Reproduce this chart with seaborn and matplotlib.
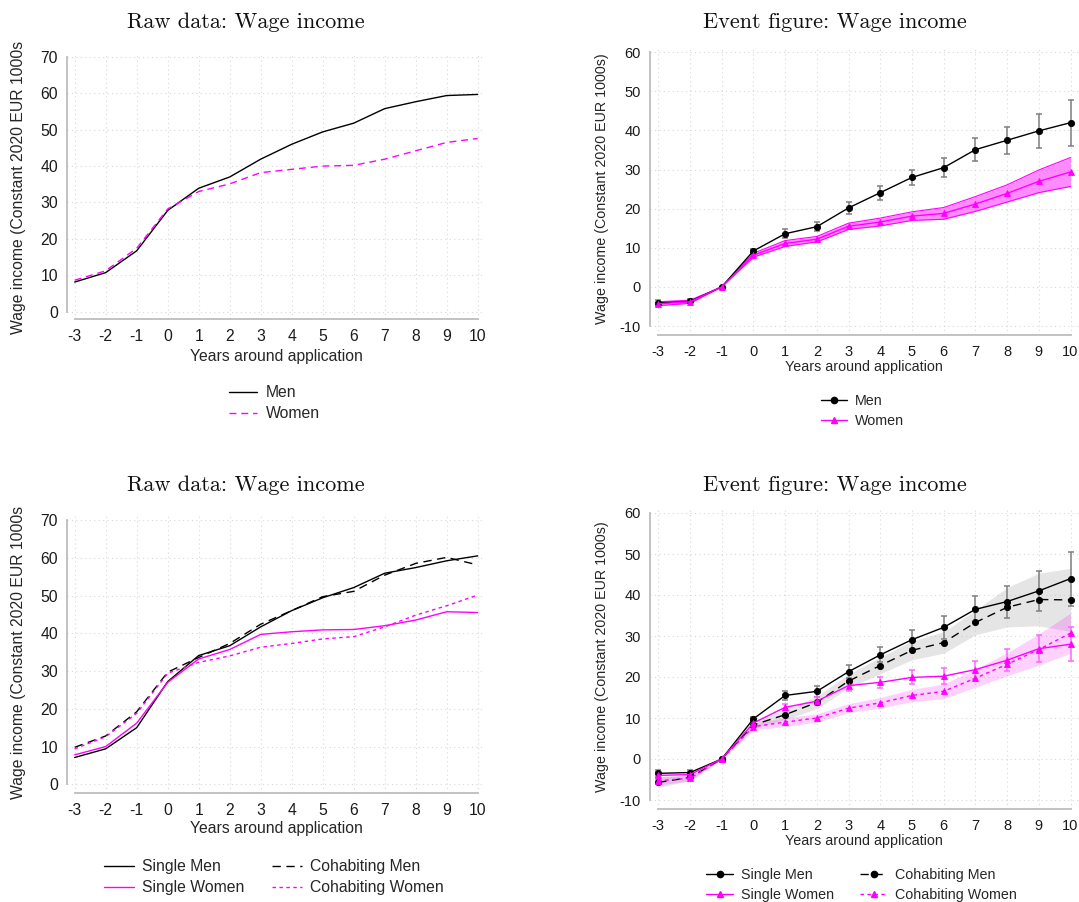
import matplotlib
matplotlib.use("Agg")
import matplotlib.pyplot as plt
import seaborn as sns
import numpy as np
from matplotlib.lines import Line2D

# ---------------- data ----------------
years = [-3, -2, -1, 0, 1, 2, 3, 4, 5, 6, 7, 8, 9, 10]

# Panel A: raw data, men vs women
men_raw = [8.1, 10.7, 16.7, 27.8, 33.9, 37.0, 41.9, 46.0, 49.4, 51.8, 55.8, 57.7, 59.4, 59.7]
women_raw = [8.6, 11.2, 17.4, 28.2, 33.0, 35.1, 38.2, 39.1, 40.0, 40.2, 41.9, 44.2, 46.5, 47.6]

# Panel B: event study, men vs women
men_est = [-4.1, -3.7, 0.0, 9.2, 13.6, 15.4, 20.2, 24.1, 28.0, 30.5, 35.1, 37.5, 39.9, 42.0]
men_ci = [0.7, 0.5, 0.0, 0.5, 1.1, 1.2, 1.5, 1.8, 2.0, 2.5, 2.9, 3.5, 4.4, 5.9]
women_est = [-4.3, -3.8, 0.0, 8.1, 11.1, 12.2, 15.5, 16.6, 18.1, 18.8, 21.2, 23.9, 27.0, 29.4]
women_ci = [0.5, 0.4, 0.0, 0.5, 0.75, 0.7, 0.8, 1.0, 1.1, 1.5, 1.9, 2.2, 2.9, 3.7]

# Panel C: raw data by cohabitation
single_men_raw = [7.1, 9.4, 15.0, 27.2, 34.1, 36.7, 41.7, 46.0, 49.4, 52.1, 55.9, 57.4, 59.2, 60.5]
cohab_men_raw = [9.8, 12.8, 19.2, 29.7, 33.6, 37.3, 42.4, 46.0, 49.7, 51.1, 55.4, 58.5, 60.1, 58.1]
single_women_raw = [7.8, 10.0, 16.2, 27.0, 33.2, 35.7, 39.7, 40.4, 40.9, 41.0, 42.0, 43.5, 45.7, 45.5]
cohab_women_raw = [9.4, 12.6, 18.8, 29.4, 32.3, 34.0, 36.3, 37.3, 38.5, 39.1, 41.7, 44.8, 47.3, 50.1]

# Panel D: event study by cohabitation
single_men_est = [-3.5, -3.3, 0.0, 9.8, 15.5, 16.5, 21.3, 25.4, 29.1, 32.1, 36.5, 38.4, 41.0, 44.0]
single_men_ci = [0.9, 0.7, 0.0, 0.5, 1.1, 1.3, 1.6, 1.8, 2.3, 2.9, 3.2, 3.9, 4.8, 6.6]
cohab_men_est = [-5.7, -4.5, 0.0, 8.3, 10.8, 13.8, 19.0, 22.8, 26.5, 28.4, 33.3, 37.0, 38.9, 38.8]
cohab_men_ci = [1.3, 0.7, 0.0, 0.8, 1.2, 1.5, 1.7, 2.0, 2.3, 2.6, 3.0, 4.8, 6.4, 7.7]
single_women_est = [-4.0, -3.8, 0.0, 8.8, 12.6, 14.1, 17.9, 18.7, 19.9, 20.2, 21.8, 24.1, 26.9, 28.0]
single_women_ci = [0.8, 0.6, 0.0, 0.5, 0.9, 1.0, 1.2, 1.3, 1.7, 1.9, 2.2, 2.7, 3.3, 4.2]
cohab_women_est = [-5.3, -4.7, 0.0, 7.9, 9.0, 10.0, 12.4, 13.7, 15.5, 16.5, 19.7, 23.1, 26.7, 30.7]
cohab_women_ci = [1.0, 0.7, 0.0, 0.8, 1.1, 1.0, 1.1, 1.3, 1.5, 1.8, 2.2, 2.8, 3.8, 4.9]

raw_yticks = [0, 10, 20, 30, 40, 50, 60, 70]
event_yticks = [-10, 0, 10, 20, 30, 40, 50, 60]

title_raw = "Raw data: Wage income"
title_event = "Event figure: Wage income"
xlab = "Years around application"
ylab_left = "Wage income (Constant 2020 EUR 1000s"
ylab_right = "Wage income (Constant 2020 EUR 1000s)"

# ---------------- style ----------------
sns.set_theme(style="white")
plt.rcParams["font.family"] = ["Liberation Sans", "DejaVu Sans"]

W, H = 1079, 902
fig = plt.figure(figsize=(W / 100, H / 100), dpi=100)
fig.patch.set_facecolor("white")

MAG = "#ff00ff"
SPINE = "#bdbdbd"


def fx(px):
    return px / W


def fy(py):
    return 1 - py / H


def make_axes(left, right, top, bottom, xt0_px, xt1_px, yticks, ylo_px, yhi_px, fs):
    """Create axes from pixel rectangle; tick pixel positions define limits."""
    ax = fig.add_axes([fx(left), fy(bottom), (right - left) / W, (bottom - top) / H])
    ppx = (xt1_px - xt0_px) / (years[-1] - years[0])
    ax.set_xlim(years[0] - (xt0_px - left) / ppx, years[-1] + (right - xt1_px) / ppx)
    ppy = (ylo_px - yhi_px) / (yticks[-1] - yticks[0])
    ax.set_ylim(yticks[0] - (bottom - ylo_px) / ppy, yticks[-1] + (yhi_px - top) / ppy)
    ax.set_xticks(years)
    ax.set_xticklabels([str(v) for v in years])
    ax.set_yticks(yticks)
    ax.set_yticklabels([str(v) for v in yticks])
    for s in ["top", "right"]:
        ax.spines[s].set_visible(False)
    for s in ["left", "bottom"]:
        ax.spines[s].set_color(SPINE)
        ax.spines[s].set_linewidth(1.3)
    ax.spines["left"].set_bounds(yticks[0], yticks[-1])
    ax.spines["bottom"].set_bounds(years[0], years[-1])
    ax.tick_params(axis="both", direction="out", length=4.5, width=1.2,
                   color=SPINE, labelcolor="#1a1a1a", labelsize=fs, pad=2)
    ax.tick_params(axis="x", pad=3)
    ax.grid(True, linestyle=(0, (1, 3)), color="#d9d9d9", linewidth=0.8)
    ax.set_axisbelow(True)
    ax.set_facecolor("white")
    ax.set_xlabel("")
    ax.set_ylabel("")
    return ax


def line(ax, y, color, ls="-", marker=None, ms=4.5, lw=1.0, label=None, z=4):
    sns.lineplot(x=years, y=y, ax=ax, color=color, linestyle=ls, marker=marker,
                 markersize=ms, markeredgewidth=0.6, markeredgecolor=color,
                 linewidth=lw, label=label, zorder=z, errorbar=None, legend=False)


def band(ax, est, ci, color, alpha, edge=None):
    lo = np.array(est) - np.array(ci)
    hi = np.array(est) + np.array(ci)
    ax.fill_between(years, lo, hi, color=color, alpha=alpha, linewidth=0, zorder=1)
    if edge is not None:
        ax.plot(years, lo, color=edge, linewidth=0.8, zorder=1.5)
        ax.plot(years, hi, color=edge, linewidth=0.8, zorder=1.5)


def ebars(ax, est, ci, color):
    ax.errorbar(years, est, yerr=ci, fmt="none", ecolor=color, elinewidth=1.1,
                capsize=2.2, capthick=1.1, zorder=2)


TITLE_KW = dict(fontfamily="cmr10", fontsize=16, ha="center", va="center", color="#111111")

# ---------------- Panel A (top-left) ----------------
axA = make_axes(67, 484, 53, 319, 74.7, 477.7, raw_yticks, 311.5, 57.0, 11.3)
line(axA, men_raw, "black", "-", label="Men")
line(axA, women_raw, MAG, (0, (5, 3.5)), label="Women")
fig.text(fx(246), fy(22), title_raw, **TITLE_KW)
fig.text(fx(276), fy(356), xlab, ha="center", va="center", fontsize=11.3)
fig.text(fx(19), fy(187), ylab_left, rotation=90, ha="center", va="center", fontsize=11.3)
hA = [Line2D([], [], color="black", lw=1.0),
      Line2D([], [], color=MAG, lw=1.0, ls=(0, (5, 3.5)))]
fig.legend(hA, ["Men", "Women"], loc="upper left", bbox_to_anchor=(fx(229), fy(385)),
           frameon=False, fontsize=11.3, handlelength=1.8, handletextpad=0.55,
           labelspacing=0.4, borderpad=0, borderaxespad=0)

# ---------------- Panel B (top-right) ----------------
axB = make_axes(650, 1079, 49, 335, 658.3, 1070.5, event_yticks, 326.0, 52.3, 10.5)
band(axB, women_est, women_ci, MAG, 0.45, edge=MAG)
ebars(axB, men_est, men_ci, "#7f7f7f")
line(axB, men_est, "black", "-", marker="o", ms=4.5)
line(axB, women_est, MAG, "-", marker="^", ms=5)
fig.text(fx(835), fy(22), title_event, **TITLE_KW)
fig.text(fx(864), fy(367), xlab, ha="center", va="center", fontsize=10.3)
fig.text(fx(602), fy(189), ylab_right, rotation=90, ha="center", va="center", fontsize=10.3)
hB = [Line2D([], [], color="black", lw=1.0, marker="o", ms=4.5),
      Line2D([], [], color=MAG, lw=1.0, marker="^", ms=5)]
fig.legend(hB, ["Men", "Women"], loc="upper left", bbox_to_anchor=(fx(821), fy(394)),
           frameon=False, fontsize=10.3, handlelength=1.8, handletextpad=0.55,
           labelspacing=0.45, borderpad=0, borderaxespad=0)

# ---------------- Panel C (bottom-left) ----------------
axC = make_axes(67, 484, 516, 793, 74.7, 477.7, raw_yticks, 784.3, 520.0, 11.3)
line(axC, single_men_raw, "black", "-")
line(axC, cohab_men_raw, "black", (0, (6, 4)))
line(axC, single_women_raw, MAG, "-")
line(axC, cohab_women_raw, MAG, (0, (2.5, 2.5)))
fig.text(fx(246), fy(485), title_raw, **TITLE_KW)
fig.text(fx(276), fy(829), xlab, ha="center", va="center", fontsize=11.3)
fig.text(fx(19), fy(652), ylab_left, rotation=90, ha="center", va="center", fontsize=11.3)
hC = [Line2D([], [], color="black", lw=1.0),
      Line2D([], [], color=MAG, lw=1.0),
      Line2D([], [], color="black", lw=1.0, ls=(0, (6, 4))),
      Line2D([], [], color=MAG, lw=1.0, ls=(0, (2.5, 2.5)))]
fig.legend(hC, ["Single Men", "Single Women", "Cohabiting Men", "Cohabiting Women"],
           ncol=2, loc="upper left", bbox_to_anchor=(fx(104), fy(859)),
           frameon=False, fontsize=11.3, handlelength=1.9, handletextpad=0.5,
           labelspacing=0.4, columnspacing=1.8, borderpad=0, borderaxespad=0)

# ---------------- Panel D (bottom-right) ----------------
axD = make_axes(650, 1079, 510, 809, 658.3, 1070.5, event_yticks, 800.0, 513.0, 10.5)
band(axD, cohab_men_est, cohab_men_ci, "#bfbfbf", 0.4)
band(axD, cohab_women_est, cohab_women_ci, MAG, 0.18)
ebars(axD, single_men_est, single_men_ci, "#7f7f7f")
ebars(axD, single_women_est, single_women_ci, "#ff66ff")
line(axD, cohab_men_est, "black", (0, (6, 4)), marker="o", ms=4.5, z=4)
line(axD, single_men_est, "black", "-", marker="o", ms=4.5, z=5)
line(axD, cohab_women_est, MAG, (0, (2.5, 2.5)), marker="^", ms=5, z=6)
line(axD, single_women_est, MAG, "-", marker="^", ms=5, z=7)
fig.text(fx(835), fy(485), title_event, **TITLE_KW)
fig.text(fx(864), fy(841), xlab, ha="center", va="center", fontsize=10.3)
fig.text(fx(602), fy(657), ylab_right, rotation=90, ha="center", va="center", fontsize=10.3)
hD = [Line2D([], [], color="black", lw=1.0, marker="o", ms=4.5),
      Line2D([], [], color=MAG, lw=1.0, marker="^", ms=5),
      Line2D([], [], color="black", lw=1.0, marker="o", ms=4.5, ls=(0, (6, 4))),
      Line2D([], [], color=MAG, lw=1.0, marker="^", ms=5, ls=(0, (2.5, 2.5)))]
fig.legend(hD, ["Single Men", "Single Women", "Cohabiting Men", "Cohabiting Women"],
           ncol=2, loc="upper left", bbox_to_anchor=(fx(706), fy(868)),
           frameon=False, fontsize=10.3, handlelength=1.9, handletextpad=0.55,
           labelspacing=0.4, columnspacing=1.8, borderpad=0, borderaxespad=0)

fig.savefig("out.png", dpi=100, facecolor="white")
